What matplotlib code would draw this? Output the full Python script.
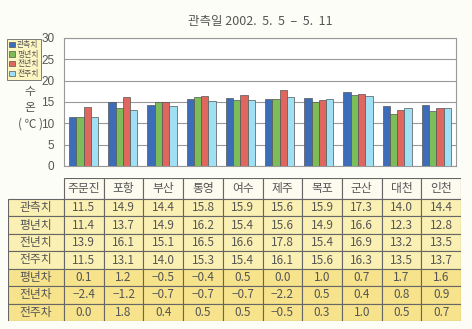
import numpy as np
import matplotlib
matplotlib.use("Agg")
import matplotlib.pyplot as plt

plt.rcParams['font.family'] = ['Noto Sans CJK KR', 'DejaVu Sans']

# data
stations = ['주문진', '포항', '부산', '통영', '여수', '제주', '목포', '군산', '대천', '인천']
series_names = ['관측치', '평년치', '전년치', '전주치']
observed = [11.5, 14.9, 14.4, 15.8, 15.9, 15.6, 15.9, 17.3, 14.0, 14.4]
normal = [11.4, 13.7, 14.9, 16.2, 15.4, 15.6, 14.9, 16.6, 12.3, 12.8]
last_year = [13.9, 16.1, 15.1, 16.5, 16.6, 17.8, 15.4, 16.9, 13.2, 13.5]
last_week = [11.5, 13.1, 14.0, 15.3, 15.4, 16.1, 15.6, 16.3, 13.5, 13.7]
diff_names = ['평년차', '전년차', '전주차']
diff_normal = [0.1, 1.2, -0.5, -0.4, 0.5, 0.0, 1.0, 0.7, 1.7, 1.6]
diff_last_year = [-2.4, -1.2, -0.7, -0.7, -0.7, -2.2, 0.5, 0.4, 0.8, 0.9]
diff_last_week = [0.0, 1.8, 0.4, 0.5, 0.5, -0.5, 0.3, 1.0, 0.5, 0.7]
yticks = [0, 5, 10, 15, 20, 25, 30]

colors = ['#3d6cb8', '#7cbd5a', '#e0675e', '#9fe0f5']
text_col = '#555555'

W, H = 472, 329
fig = plt.figure(figsize=(W / 100, H / 100), dpi=100)
fig.patch.set_facecolor('#fdfdf8')

# bar chart
ax = fig.add_axes([64 / W, 1 - 166 / H, 392 / W, 128 / H])
ax.set_facecolor('white')
x = np.arange(len(stations))
bw = 0.185
all_series = [observed, normal, last_year, last_week]
for i, vals in enumerate(all_series):
    ax.bar(x + (i - 1.5) * bw, vals, bw, color=colors[i], edgecolor='#555555',
           linewidth=0.5, label=series_names[i], zorder=3)
ax.set_xlim(-0.5, len(stations) - 0.5)
ax.set_ylim(0, 30)
ax.set_yticks(yticks)
ax.set_yticklabels([str(t) for t in yticks], color=text_col, fontsize=8.5,
                   family='Liberation Sans')
ax.tick_params(axis='y', length=0, pad=7)
ax.set_xticks([])
ax.grid(axis='y', color='#999999', linewidth=0.8, zorder=0)
for s in ax.spines.values():
    s.set_color('#999999')
    s.set_linewidth(0.8)

leg = ax.legend(loc='upper left', bbox_to_anchor=(7 / W, 1 - 39 / H),
                bbox_transform=fig.transFigure, fontsize=5.6, frameon=True,
                fancybox=False, handlelength=0.7, handleheight=0.7,
                handletextpad=0.3, borderpad=0.3, labelspacing=0.2,
                borderaxespad=0)
leg.get_frame().set_facecolor('#fdf3b5')
leg.get_frame().set_edgecolor('#444444')
leg.get_frame().set_linewidth(0.6)
for t in leg.get_texts():
    t.set_color(text_col)

fig.text(260 / W, 1 - 22 / H, '관측일 2002.  5.  5  –  5.  11', ha='center',
         va='center', fontsize=9, color=text_col)
fig.text(30 / W, 1 - 108 / H, '수\n온\n( ℃ )', ha='center', va='center',
         fontsize=8.5, color=text_col, linespacing=1.35)

# table
tab_ax = fig.add_axes([8 / W, 1 - 321 / H, 453 / W, 143 / H])
tab_ax.axis('off')
label_w = 56
col_w = (453 - label_w) / len(stations)
header_h = 21
row_h = (143 - header_h) / 7
rows = [observed, normal, last_year, last_week, diff_normal, diff_last_year, diff_last_week]
row_labels = series_names + diff_names
tab_ax.set_xlim(0, 453)
tab_ax.set_ylim(143, 0)

def cell(x0, y0, w, h, fc, txt):
    tab_ax.add_patch(plt.Rectangle((x0, y0), w, h, facecolor=fc,
                                   edgecolor='#666666', linewidth=0.8))
    tab_ax.text(x0 + w / 2, y0 + h / 2, txt, ha='center', va='center',
                fontsize=8.5, color=text_col)

for j, st in enumerate(stations):
    cell(label_w + j * col_w, 0, col_w, header_h, '#fdfbef', st)
for i, (lab, vals) in enumerate(zip(row_labels, rows)):
    y0 = header_h + i * row_h
    fc = '#fbf0b3' if i < 4 else '#f6e38c'
    cell(0, y0, label_w, row_h, fc, lab)
    for j, v in enumerate(vals):
        cell(label_w + j * col_w, y0, col_w, row_h, fc, f'{v:.1f}'.replace('-', '−'))

fig.savefig('out.png', dpi=100, facecolor=fig.get_facecolor())
